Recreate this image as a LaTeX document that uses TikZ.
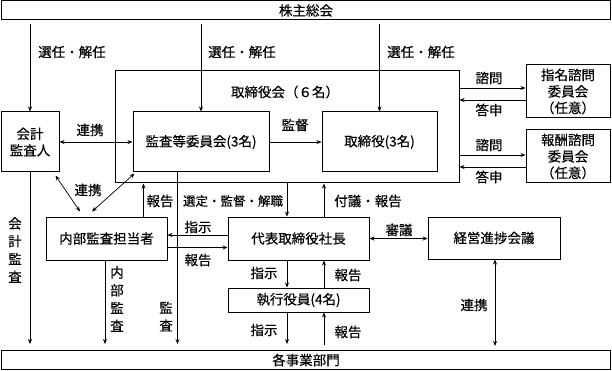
\documentclass[tikz,border=0pt]{standalone}
\usepackage{fontspec}
\newfontfamily\jp[FakeBold=0.35]{Noto Sans CJK JP}
\usetikzlibrary{arrows.meta,calc}
\begin{document}
\begin{tikzpicture}[x=1pt,y=-1pt,
 box/.style={draw, line width=1pt, inner sep=0pt, font={\jp\fontsize{13.5}{16.5}\selectfont}, align=center},
 lbl/.style={inner sep=0pt, font={\jp\fontsize{13.5}{16}\selectfont}, align=center},
 vlbl/.style={inner sep=0pt, font={\jp\fontsize{13.5}{17.8}\selectfont}, align=center},
 arr/.style={line width=0.7pt, -{Stealth[length=5pt,width=4pt]}},
 darr/.style={line width=0.7pt, {Stealth[length=5pt,width=4pt]}-{Stealth[length=5pt,width=4pt]}}]
\useasboundingbox (0,0) rectangle (612,371);
% boxes
\node[box, minimum width=609pt, minimum height=19pt] (sh) at (306,10.5) {株主総会};
\node[box, minimum width=344pt, minimum height=112pt] (board) at (287,127) {};
\node[lbl] (boardl) at (285,92) {取締役会（６名）};
\node[box, minimum width=58pt, minimum height=60pt] (kaikei) at (30,142) {会計\\監査人};
\node[box, minimum width=136pt, minimum height=60pt] (kansa) at (201,142) {監査等委員会(3名)};
\node[box, minimum width=115pt, minimum height=60pt] (tori) at (379.5,142) {取締役(3名)};
\node[box, minimum width=84pt, minimum height=53pt] (shimei) at (568,91.5) {指名諮問\\委員会\\（任意）};
\node[box, minimum width=84pt, minimum height=53pt] (hoshu) at (568,156.5) {報酬諮問\\委員会\\（任意）};
\node[box, minimum width=121pt, minimum height=43pt] (naibu) at (106.5,238.5) {内部監査担当者};
\node[box, minimum width=141pt, minimum height=43pt] (shacho) at (298.5,238.5) {代表取締役社長};
\node[box, minimum width=132pt, minimum height=42pt] (keiei) at (494,238) {経営進捗会議};
\node[box, minimum width=141pt, minimum height=24pt] (shikko) at (298.5,300) {執行役員(4名)};
\node[box, minimum width=609pt, minimum height=19pt] (bd) at (306,360) {各事業部門};
% top arrows
\draw[arr] ($(sh.south -| kaikei.north)+(0,4)$) -- (kaikei.north);
\draw[arr] ($(sh.south -| kansa.north)+(0,4)$) -- (kansa.north);
\draw[arr] ($(sh.south -| tori.north)+(0,4)$) -- (tori.north);
\node[lbl] (l1) at (72,52) {選任・解任};
\node[lbl] (l2) at (242,52) {選任・解任};
\node[lbl] (l3) at (421,52) {選任・解任};
% horizontal in board
\draw[darr] (kaikei.east) -- (kansa.west);
\node[lbl] (l4) at (90,130) {連携};
\draw[arr] (kansa.east) -- (tori.west);
\node[lbl] (l5) at (295,125) {監督};
% advisory committees
\path ([yshift=3.5pt]shimei.west) coordinate (s1) ([yshift=-8.5pt]shimei.west) coordinate (s2);
\draw[arr] (board.east |- s1) -- (s1);
\draw[arr] (s2) -- (board.east |- s2);
\path ([yshift=1.5pt]hoshu.west) coordinate (s3) ([yshift=-10.5pt]hoshu.west) coordinate (s4);
\draw[arr] (board.east |- s3) -- (s3);
\draw[arr] (s4) -- (board.east |- s4);
\node[lbl] (l6) at (489,78) {諮問};
\node[lbl] (l7) at (489,110) {答申};
\node[lbl] (l8) at (489,145) {諮問};
\node[lbl] (l9) at (489,177) {答申};
% diagonals
\draw[darr] ([xshift=-4pt,yshift=-3pt]kaikei.south east) -- ([xshift=-26.5pt,yshift=5pt]naibu.north);
\draw[darr] ([xshift=2pt,yshift=-1pt]kansa.south west) -- ([xshift=-14.5pt,yshift=5pt]naibu.north);
\node[lbl] (l10) at (88,190) {連携};
% verticals to departments
\draw[arr] (kaikei.south) -- ($(kaikei.south |- bd.north)+(0,-6)$);
\node[vlbl] (v1) at (15,250) {会\\計\\監\\査};
\path ([xshift=-1.5pt]naibu.south) coordinate (n1);
\draw[arr] (n1) -- ($(n1 |- bd.north)+(0,-6)$);
\node[vlbl] (v2) at (117,299) {内\\部\\監\\査};
\path ([xshift=45pt]kansa.south west) coordinate (k1);
\draw[arr] (k1) -- ($(k1 |- bd.north)+(0,-6)$);
\node[vlbl] (v3) at (166,316.5) {監\\査};
% naibu to board
\path ([xshift=-24pt]naibu.north east) coordinate (n2);
\draw[arr] (n2) -- (n2 |- board.south);
\node[lbl] (l11) at (160,201) {報告};
% board to shacho
\draw[arr] (board.south) -- (board.south |- shacho.north);
\node[lbl, font={\jp\fontsize{12.5}{15}\selectfont}] (l12) at (233,201) {選定・監督・解職};
\path ([xshift=25.5pt]shacho.north) coordinate (c1);
\draw[arr] (c1) -- (c1 |- board.south);
\node[lbl] (l13) at (368,201) {付議・報告};
% shacho - naibu
\path ([yshift=3.5pt]shacho.west) coordinate (h1) ([yshift=-9pt]shacho.west) coordinate (h2);
\draw[arr] (h1) -- (h1 -| naibu.east);
\draw[arr] (h2 -| naibu.east) -- (h2);
\node[lbl] (l14) at (198,227) {指示};
\node[lbl] (l15) at (198,260) {報告};
% shacho - shikko
\path ([xshift=-11.5pt]shacho.south) coordinate (d1) ([xshift=25.5pt]shacho.south) coordinate (d2);
\draw[arr] (d1) -- (d1 |- shikko.north);
\draw[arr] (d2 |- shikko.north) -- (d2);
\node[lbl] (l16) at (264,273) {指示};
\node[lbl] (l17) at (348,275) {報告};
% shikko - departments
\path ([xshift=-11.5pt]shikko.south) coordinate (e1) ([xshift=25.5pt]shikko.south) coordinate (e2);
\draw[arr] (e1) -- ($(e1 |- bd.north)+(0,-6)$);
\draw[arr] ($(e2 |- bd.north)+(0,-5)$) -- (e2);
\node[lbl] (l18) at (264,330) {指示};
\node[lbl] (l19) at (348,332) {報告};
% keiei
\draw[darr] (shacho.east) -- (shacho.east -| keiei.west);
\node[lbl] (l20) at (399,230) {審議};
\path ([xshift=1pt]keiei.south) coordinate (g1);
\draw[darr] (g1) -- ($(g1 |- bd.north)+(0,-4)$);
\node[lbl] (l21) at (474,305) {連携};
\end{tikzpicture}
\end{document}
